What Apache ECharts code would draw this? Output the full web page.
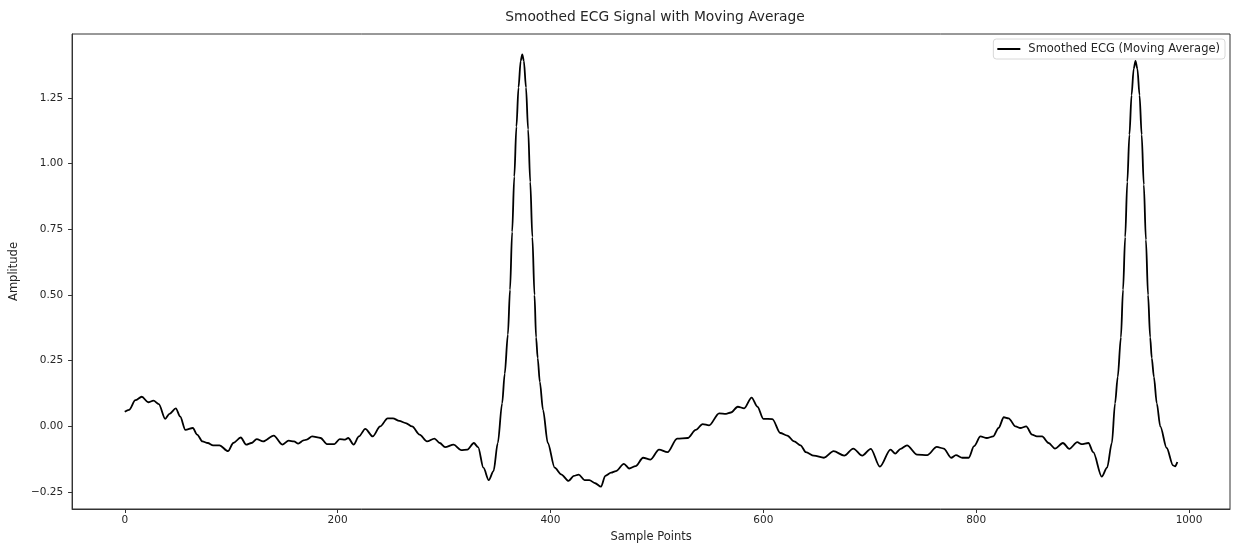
<!DOCTYPE html>
<html>
<head>
<meta charset="utf-8">
<script src="https://cdn.jsdelivr.net/npm/echarts@6/dist/echarts.min.js"></script>
<style>
  html, body { margin: 0; padding: 0; background: #fff; }
  #chart { width: 1234px; height: 548px; }
</style>
</head>
<body>
<div id="chart"></div>
<script>
// sample positions
const samplePoints = [
  0, 4, 10, 16, 22, 27, 32, 38, 42, 48, 52, 57, 64, 68, 73, 78, 83, 89, 97, 102,
  109, 114, 119, 124, 130, 140, 148, 154, 159, 163, 168, 171, 176, 184, 190, 197, 202, 207, 210, 215,
  220, 226, 233, 240, 247, 252, 258, 264, 270, 277, 284, 291, 296, 301, 309, 316, 322, 328, 332, 337,
  342, 346.5, 350.5, 354.6, 357, 360, 362, 364, 366, 368, 370, 372, 373.5, 375, 377, 379, 381, 383, 385, 386.5,
  388, 390, 393, 397.5, 404, 410, 417, 422, 426.5, 432, 436.5, 442, 447.5, 451.5, 457, 461.5, 469, 474, 480, 487,
  494, 502, 510, 519, 529, 536.5, 543, 549, 558.5, 565, 569.5, 576, 582, 589, 594.5, 600, 608.5, 616, 622.5, 629,
  635, 640, 647.5, 657, 666, 676, 684.5, 693, 701, 709.5, 719.5, 724, 729, 735, 744.5, 754, 763, 769.5, 776.5, 781,
  787, 793, 798, 804, 810, 816, 821, 826, 830.5, 837, 841.5, 847, 852.5, 857, 862, 868, 874, 881.5, 887.5, 895,
  899, 905.5, 910, 918, 923, 927.5, 930.5, 933, 936, 938, 940, 942, 944, 946, 948, 949.7, 951.5, 953.5, 955.5, 957.5,
  959.5, 961.5, 963.5, 965, 967, 969.7, 973, 979, 985, 987, 989
];

const smoothedEcg = [
  0.056, 0.063, 0.100, 0.113, 0.092, 0.098, 0.085, 0.029, 0.048, 0.069, 0.038, -0.013, -0.006, -0.031, -0.057, -0.063, -0.072, -0.072, -0.094, -0.063,
  -0.042, -0.069, -0.063, -0.048, -0.057, -0.035, -0.069, -0.054, -0.057, -0.065, -0.053, -0.050, -0.038, -0.044, -0.067, -0.067, -0.048, -0.050, -0.044, -0.069,
  -0.038, -0.009, -0.038, 0.000, 0.031, 0.031, 0.021, 0.013, 0.000, -0.031, -0.057, -0.046, -0.063, -0.079, -0.069, -0.090, -0.088, -0.063, -0.079, -0.157,
  -0.204, -0.170, -0.063, 0.088, 0.200, 0.350, 0.520, 0.740, 0.950, 1.140, 1.290, 1.390, 1.415, 1.390, 1.290, 1.130, 0.930, 0.720, 0.500, 0.339,
  0.260, 0.170, 0.063, -0.063, -0.157, -0.182, -0.207, -0.188, -0.183, -0.204, -0.204, -0.216, -0.229, -0.188, -0.176, -0.170, -0.142, -0.160, -0.151, -0.119,
  -0.126, -0.088, -0.098, -0.046, -0.044, -0.013, 0.009, 0.004, 0.050, 0.048, 0.053, 0.075, 0.069, 0.110, 0.075, 0.029, 0.028, -0.025, -0.035, -0.057,
  -0.072, -0.098, -0.111, -0.119, -0.094, -0.111, -0.084, -0.111, -0.085, -0.153, -0.088, -0.103, -0.085, -0.072, -0.107, -0.109, -0.078, -0.084, -0.119, -0.109,
  -0.119, -0.119, -0.075, -0.038, -0.044, -0.038, -0.006, 0.035, 0.031, 0.000, -0.006, 0.000, -0.031, -0.038, -0.038, -0.063, -0.084, -0.063, -0.085, -0.060,
  -0.067, -0.063, -0.098, -0.191, -0.157, -0.063, 0.088, 0.188, 0.339, 0.520, 0.720, 0.930, 1.110, 1.260, 1.360, 1.390, 1.360, 1.260, 1.110, 0.920,
  0.710, 0.500, 0.339, 0.260, 0.188, 0.088, 0.000, -0.082, -0.148, -0.152, -0.135
];

const xTicks = [0, 200, 400, 600, 800, 1000];
const yTicks = [-0.25, 0, 0.25, 0.5, 0.75, 1.0, 1.25];

const fontFamily = "DejaVu Sans";
const textColor = "#262626";

const chart = echarts.init(document.getElementById("chart"));

const lineData = samplePoints.map((x, i) => [x, smoothedEcg[i]]);

function fmtY(v) {
  const s = Math.abs(v).toFixed(2);
  return v < 0 ? "\u2212" + s : s;
}

chart.setOption({
  animation: false,
  backgroundColor: "#fff",
  title: {
    text: "Smoothed ECG Signal with Moving Average",
    left: 650,
    top: 5,
    textAlign: "center",
    textStyle: { fontFamily: fontFamily, fontSize: 13.8, fontWeight: "normal", color: textColor },
  },
  legend: {
    right: 9,
    top: 39,
    orient: "vertical",
    data: ["Smoothed ECG (Moving Average)"],
    icon: "rect",
    itemWidth: 23,
    itemHeight: 2,
    itemGap: 0,
    padding: [4, 5, 4, 4],
    borderColor: "#d8d8d8",
    borderWidth: 1,
    borderRadius: 3,
    backgroundColor: "rgba(255,255,255,0.8)",
    textStyle: { fontFamily: fontFamily, fontSize: 11.5, color: textColor, padding: [0, 0, 0, 3] },
  },
  grid: {
    left: 71,
    right: 4,
    top: 34,
    bottom: 35,
    show: true,
    borderColor: "#333",
    borderWidth: 1,
    containLabel: false,
  },
  xAxis: {
    type: "value",
    min: -49.5,
    max: 1038.5,
    name: "Sample Points",
    nameLocation: "middle",
    nameGap: 22,
    nameTextStyle: { fontFamily: fontFamily, fontSize: 11.5, color: textColor },
    axisLine: { show: true, onZero: false, lineStyle: { color: "#333", width: 1 } },
    splitLine: { show: false },
    axisTick: { show: true, length: 4, customValues: xTicks, lineStyle: { color: "#333" } },
    axisLabel: {
      customValues: xTicks,
      margin: 6,
      fontFamily: fontFamily,
      fontSize: 10.5,
      color: textColor,
      formatter: (v) => String(v),
    },
  },
  yAxis: {
    type: "value",
    min: -0.314,
    max: 1.4927,
    name: "Amplitude",
    nameLocation: "middle",
    nameGap: 45,
    nameTextStyle: { fontFamily: fontFamily, fontSize: 11.5, color: textColor },
    axisLine: { show: true, onZero: false, lineStyle: { color: "#333", width: 1 } },
    splitLine: { show: false },
    axisTick: { show: true, length: 4, customValues: yTicks, lineStyle: { color: "#333" } },
    axisLabel: {
      customValues: yTicks,
      margin: 9,
      fontFamily: fontFamily,
      fontSize: 10.5,
      color: textColor,
      formatter: fmtY,
    },
  },
  series: [
    {
      name: "Smoothed ECG (Moving Average)",
      type: "line",
      data: lineData,
      symbol: "none",
      smooth: 0.3,
      smoothMonotone: "x",
      lineStyle: { color: "#000", width: 1.8 },
      itemStyle: { color: "#000" },
    },
  ],
});
</script>
</body>
</html>
